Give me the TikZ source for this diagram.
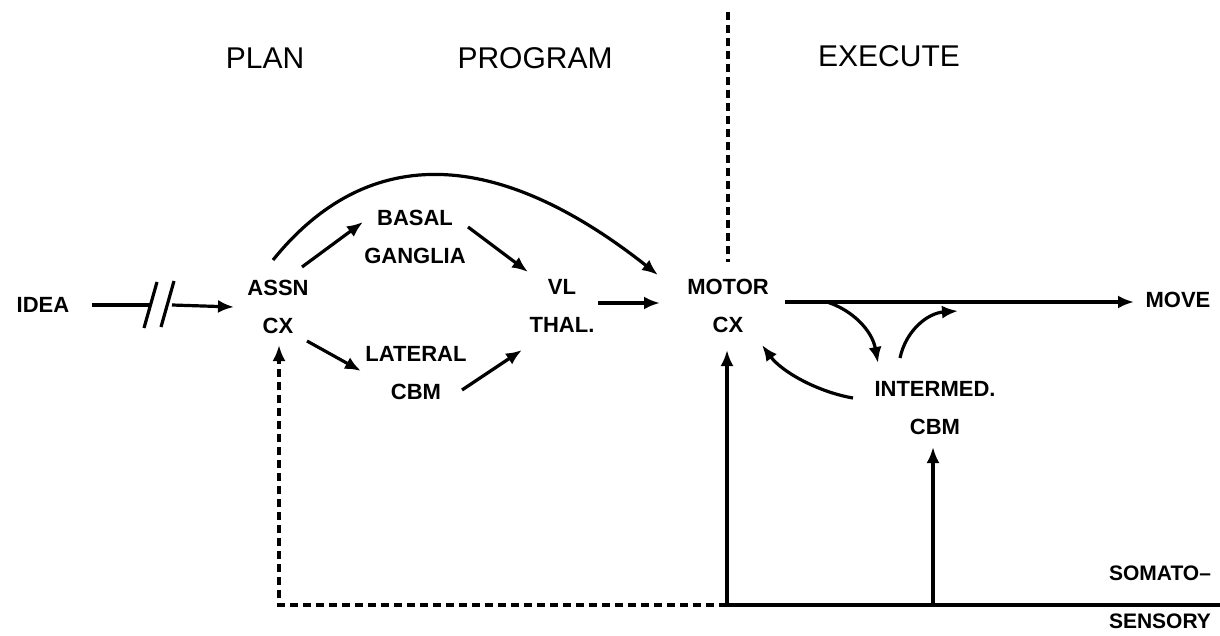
\documentclass[tikz,border=0pt]{standalone}
\usepackage{fontspec}
\setmainfont{Liberation Sans}
\usetikzlibrary{arrows.meta}
\begin{document}
\begin{tikzpicture}[x=0.5pt,y=-0.5pt,
  lbl/.style={font=\fontsize{11}{19}\selectfont\bfseries, align=center, inner sep=0pt},
  head/.style={font=\fontsize{15}{18}\selectfont, inner sep=0pt},
  plainln/.style={line width=1.6pt},
  conn/.style={line width=1.6pt, -{Latex[length=8pt,width=6.5pt]}},
  dashln/.style={line width=1.6pt, dash pattern=on 4pt off 2.5pt}]
\useasboundingbox (0,0) rectangle (1220,636);
% headings
\node[head] (plan) at (265,58) {PLAN};
\node[head] (program) at (535,58) {PROGRAM};
\node[head] (execute) at (889,56) {EXECUTE};
% nodes
\node[lbl] (idea) at (43,305) {IDEA};
\node[lbl] (assn) at (278,307) {ASSN\\CX};
\node[lbl] (basal) at (415,237) {BASAL\\GANGLIA};
\node[lbl] (vl) at (562,306) {VL\\THAL.};
\node[lbl] (lateral) at (416,373) {LATERAL\\CBM};
\node[lbl] (motor) at (728,306) {MOTOR\\CX};
\node[lbl] (move) at (1178,300) {MOVE};
\node[lbl] (intermed) at (935,408) {INTERMED.\\CBM};
\node[lbl, font=\fontsize{10.5}{24}\selectfont\bfseries] (somato) at (1160,597) {SOMATO--\\SENSORY};
% coordinates
\coordinate (dtop) at (728,12);
\coordinate (dbot) at (728,262);
\coordinate (i2) at (150,305);
\coordinate (i3) at (172,305);
\coordinate (s1a) at (144,328); \coordinate (s1b) at (157,282);
\coordinate (s2a) at (161,327); \coordinate (s2b) at (174,281);
\coordinate (arcS) at (273,260);
\coordinate (arcE) at (658,275);
\coordinate (ab1) at (302,267); \coordinate (ab2) at (363,222);
\coordinate (bv1) at (468,227); \coordinate (bv2) at (528,272);
\coordinate (al1) at (307,341); \coordinate (al2) at (361,371);
\coordinate (lv1) at (462,390); \coordinate (lv2) at (522,350);
\coordinate (vm1) at (598,303); \coordinate (vm2) at (660,303);
\coordinate (mm1) at (785,302); \coordinate (mm2) at (1134,302);
\coordinate (c1a) at (827,302); \coordinate (c1b) at (878,363);
\coordinate (c2a) at (900,358); \coordinate (c2b) at (958,311);
\coordinate (im1) at (853,398); \coordinate (im2) at (762,345);
\coordinate (botL) at (279,605);
\coordinate (botM) at (727,605);
\coordinate (botC) at (933,605);
\coordinate (botR) at (1220,605);
\coordinate (dashTip) at (279,345);
\coordinate (motTip) at (727,350);
\coordinate (cbmTip) at (933,447);
% dashed divider
\draw[dashln] (dtop) -- (dbot);
% idea arrow with break
\draw[plainln] ([xshift=11pt]idea.east) -- (i2);
\draw[plainln] (s1a) -- (s1b);
\draw[plainln] (s2a) -- (s2b);
\draw[conn] (i3) -- ([xshift=-6.5pt]assn.west);
% plan/program connectors
\draw[conn] (arcS) .. controls (370,140) and (500,150) .. (arcE);
\draw[conn] (ab1) -- (ab2);
\draw[conn] (bv1) -- (bv2);
\draw[conn] (al1) -- (al2);
\draw[conn] (lv1) -- (lv2);
\draw[conn] (vm1) -- (vm2);
% execute
\draw[conn] (mm1) -- (mm2);
\draw[conn] (c1a) .. controls (852,310) and (872,330) .. (c1b);
\draw[conn] (c2a) .. controls (906,330) and (928,313) .. (c2b);
\draw[conn] (im1) .. controls (818,392) and (782,372) .. (im2);
% somatosensory feedback
\draw[plainln] (botM) -- (botR);
\draw[conn] (botM) -- (motTip);
\draw[conn] (botC) -- (cbmTip);
\draw[dashln] (botM) -- (botL) -- ([yshift=-4pt]dashTip);
\draw[conn] ([yshift=-4pt]dashTip) -- (dashTip);
\end{tikzpicture}
\end{document}
